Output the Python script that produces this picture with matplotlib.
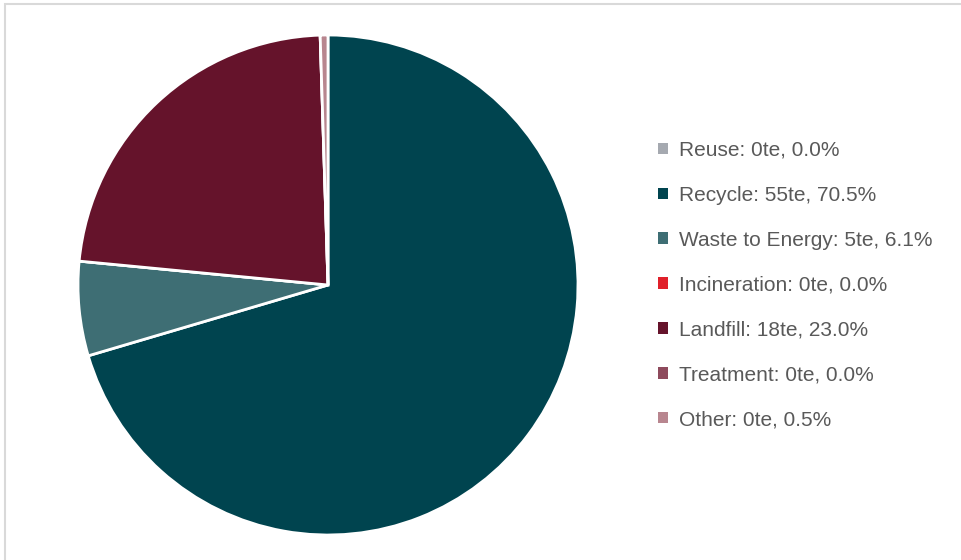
import matplotlib.pyplot as plt
from matplotlib.patches import Patch, Rectangle

labels = ["Reuse", "Recycle", "Waste to Energy", "Incineration",
          "Landfill", "Treatment", "Other"]
tonnes = [0, 55, 5, 0, 18, 0, 0]
shares = [0.0, 70.5, 6.1, 0.0, 23.0, 0.0, 0.5]
colors = ["#a5a9b0", "#00444f", "#3e6e74", "#e0202a",
          "#65132b", "#8e4a5c", "#b8868f"]

fig = plt.figure(figsize=(9.62, 5.6), dpi=100)
plt.rcParams['font.family'] = ['Liberation Sans', 'DejaVu Sans']

# chart frame (only left and top edges visible in the crop)
fig.patches.append(Rectangle((5 / 962, -0.1), 1.1, 1.1 - 4 / 560,
                             transform=fig.transFigure, fill=False,
                             edgecolor="#d9d9d9", linewidth=1.5))

ax = fig.add_axes([78 / 962, 25 / 560, 500 / 962, 500 / 560])
ax.pie(shares, colors=colors, startangle=90, counterclock=False,
       wedgeprops=dict(edgecolor="white", linewidth=2))
ax.set_xlim(-1, 1)
ax.set_ylim(-1, 1)
ax.set_aspect("equal")

handles = [Patch(facecolor=c, edgecolor="none") for c in colors]
texts = [f"{l}: {t}te, {s:.1f}%" for l, t, s in zip(labels, tonnes, shares)]
leg = fig.legend(handles, texts, loc="center left",
                 bbox_to_anchor=(639 / 962, 1 - 285 / 560),
                 frameon=False, fontsize=15, handlelength=0.48,
                 handleheight=0.48, handletextpad=0.55, labelspacing=1.24)
for t in leg.get_texts():
    t.set_color("#595959")

fig.savefig("out.png", dpi=100)
